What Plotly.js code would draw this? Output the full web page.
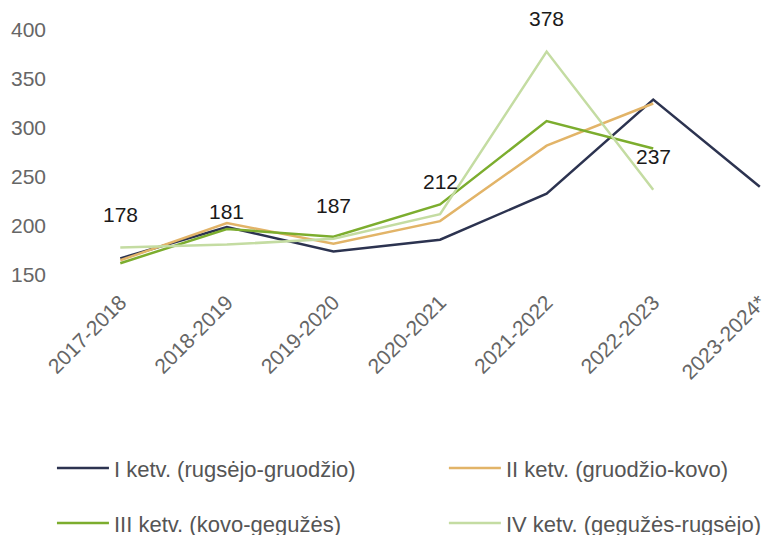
<!DOCTYPE html>
<html>
<head>
<meta charset="utf-8">
<script src="https://cdn.plot.ly/plotly-3.0.1.min.js"></script>
<style>
  html, body { margin: 0; padding: 0; background: #fff; }
  #chart { width: 764px; height: 535px; }
</style>
</head>
<body>
<div id="chart"></div>
<script>
// Mokslo metai (x kategorijos)
const years = ['2017-2018', '2018-2019', '2019-2020', '2020-2021', '2021-2022', '2022-2023', '2023-2024*'];

// Ketvirčių reikšmės
const q1 = [167, 199, 174, 186, 233, 329, 240];
const q2 = [165, 203, 182, 205, 282, 325, null];
const q3 = [162, 197, 189, 222, 307, 279, null];
const q4 = [178, 181, 187, 212, 378, 237, null];

const seriesNames = [
    'I ketv. (rugsėjo-gruodžio)',
    'II ketv. (gruodžio-kovo)',
    'III ketv. (kovo-gegužės)',
    'IV ketv. (gegužės-rugsėjo)'
];
const seriesColors = ['#2c3350', '#e2b468', '#7cad2e', '#c4dca2'];
const seriesData = [q1, q2, q3, q4];
const legendIds = ['legend', 'legend2', 'legend3', 'legend4'];

const font = 'Liberation Sans, Arial, sans-serif';

const traces = seriesData.map((vals, i) => ({
    x: years,
    y: vals,
    type: 'scatter',
    mode: 'lines',
    name: seriesNames[i],
    legend: legendIds[i],
    line: { color: seriesColors[i], width: 2.5 },
    hoverinfo: 'x+y+name'
}));

// IV ketvirčio reikšmių etiketės
const annotations = years.map((yr, i) => q4[i] == null ? null : ({
    x: yr,
    y: q4[i],
    xref: 'x',
    yref: 'y',
    text: String(q4[i]),
    showarrow: false,
    yshift: 33,
    font: { family: font, size: 21, color: '#1a1a1a' }
})).filter(a => a);

// legendos: 2 stulpeliai x 2 eilutės
function legendAt(x, y) {
    return {
        orientation: 'h',
        xref: 'container',
        yref: 'container',
        xanchor: 'left',
        yanchor: 'middle',
        x: x,
        y: y,
        itemwidth: 52,
        font: { family: font, size: 22, color: '#555555' },
        bgcolor: 'rgba(0,0,0,0)'
    };
}

const layout = {
    width: 764,
    height: 535,
    margin: { l: 67, r: 1, t: 30, b: 260 },
    paper_bgcolor: '#ffffff',
    plot_bgcolor: '#ffffff',
    font: { family: font },
    showlegend: true,
    legend: legendAt(0.068, 0.125),
    legend2: legendAt(0.581, 0.125),
    legend3: legendAt(0.068, 0.022),
    legend4: legendAt(0.581, 0.022),
    xaxis: {
        type: 'category',
        range: [-0.5, 6.03],
        showgrid: false,
        zeroline: false,
        showline: false,
        ticks: '',
        tickangle: -45,
        ticklabelstandoff: 10,
        tickfont: { family: font, size: 21, color: '#666666' }
    },
    yaxis: {
        range: [150, 400],
        tickvals: [150, 200, 250, 300, 350, 400],
        showgrid: false,
        zeroline: false,
        showline: false,
        ticks: '',
        ticklabelstandoff: 20,
        tickfont: { family: font, size: 21, color: '#666666' }
    },
    annotations: annotations
};

Plotly.newPlot('chart', traces, layout, { displayModeBar: false, responsive: false });
</script>
</body>
</html>
